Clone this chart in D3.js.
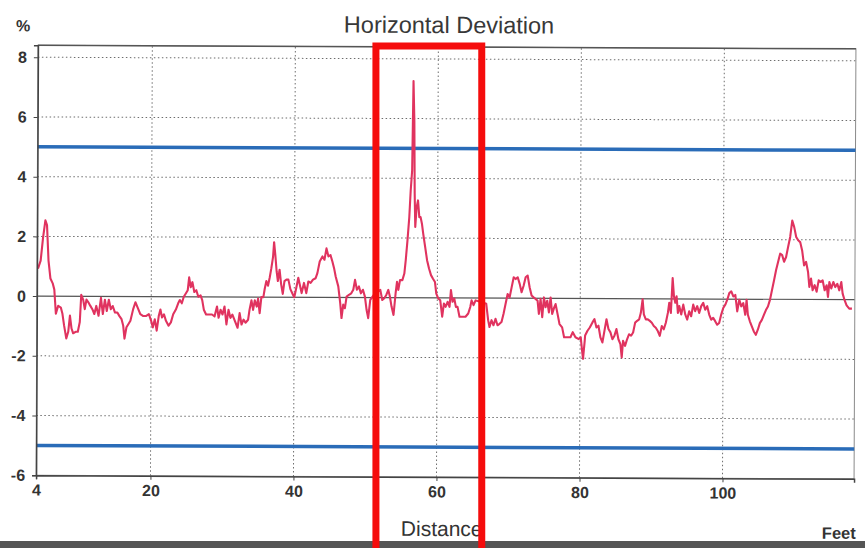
<!DOCTYPE html>
<html>
<head>
<meta charset="utf-8">
<script src="https://cdn.jsdelivr.net/npm/d3@7"></script>
<style>
  body { margin: 0; background: #fff; }
  svg { display: block; font-family: "Liberation Sans", Arial, sans-serif; }
</style>
</head>
<body>
<svg id="grafica" width="865" height="548"></svg>
<script>
// distance along the run (feet) and the horizontal deviation (%)
var distance = [
  4.14,4.51,4.83,5.15,5.38,5.61,5.89,6.21,6.44,6.67,
  6.99,7.36,7.59,7.82,8.14,8.41,8.64,8.87,9.10,9.43,
  9.75,10.02,10.21,10.48,10.71,10.94,11.26,11.49,11.77,12.05,
  12.32,12.64,12.97,13.24,13.52,13.79,14.07,14.35,14.62,14.94,
  15.27,15.54,15.86,16.09,16.28,16.55,16.83,17.10,17.47,17.79,
  18.12,18.48,18.85,19.31,19.68,20.00,20.23,20.51,20.78,21.06,
  21.29,21.52,21.79,22.07,22.44,22.76,23.08,23.45,23.77,24.00,
  24.28,24.55,24.83,25.10,25.29,25.52,25.75,26.02,26.30,26.58,
  26.90,27.13,27.36,27.68,28.05,28.51,28.87,29.20,29.43,29.70,
  29.98,30.25,30.53,30.81,31.08,31.36,31.72,32.09,32.37,32.64,
  32.92,33.20,33.56,33.75,34.02,34.25,34.48,34.76,34.94,35.17,
  35.40,35.68,35.86,36.09,36.32,36.55,36.78,37.01,37.15,37.33,
  37.52,37.70,37.93,38.16,38.39,38.62,38.90,39.17,39.45,39.77,
  40.00,40.28,40.55,
  41.03,41.35,41.68,41.96,42.28,42.61,42.98,43.22,43.54,43.92,
  44.20,44.48,44.76,45.04,45.31,45.55,45.78,46.15,46.43,46.62,
  46.85,47.09,47.32,47.65,47.97,48.25,48.49,48.76,49.04,49.32,
  49.60,49.88,50.12,50.35,50.63,51.28,52.03,52.31,52.59,52.87,
  53.15,53.38,53.61,53.89,54.17,54.36,54.55,54.78,55.11,55.38,
  55.57,55.80,56.04,56.22,56.41,56.55,56.69,56.78,56.88,57.06,
  57.25,57.44,57.62,57.81,58.00,58.28,58.55,58.83,59.11,59.39,
  59.67,59.86,60.14,60.42,60.70,60.93,61.17,61.45,61.72,61.91,
  62.14,62.38,62.61,62.84,63.12,63.50,63.96,64.34,64.62,64.80,
  65.08,65.36,66.20,66.85,67.13,67.32,67.60,67.88,68.16,68.44,
  68.72,69.00,69.28,69.56,69.84,70.12,70.40,70.68,70.96,71.24,
  71.52,71.79,72.07,72.35,72.63,72.91,73.19,73.47,73.75,74.03,
  74.22,74.45,74.69,74.92,75.15,75.38,75.62,75.85,76.08,76.36,
  76.55,76.83,77.11,77.48,77.76,78.18,78.65,78.97,79.35,79.81,
  80.09,80.28,80.42,80.65,
  80.70,81.03,81.35,81.72,82.00,82.28,82.56,82.84,83.12,83.40,
  83.68,83.96,84.24,84.52,84.80,85.08,85.36,85.64,85.83,86.01,
  86.29,86.57,86.85,87.13,87.41,87.69,87.97,88.25,88.48,88.72,
  88.90,89.18,89.46,89.74,90.02,90.30,90.58,90.86,91.14,91.42,
  91.70,91.98,92.26,92.45,92.68,92.91,93.10,93.29,93.47,93.66,
  93.85,94.13,94.41,94.69,94.97,95.24,95.52,95.80,96.08,96.36,
  96.64,96.92,97.20,97.48,97.76,98.04,98.32,98.60,98.88,99.16,
  99.44,99.72,100.00,100.28,100.56,100.84,101.12,101.40,101.68,101.96,
  102.24,102.52,102.80,103.08,103.26,103.45,103.73,104.01,104.29,104.57,
  104.85,105.13,105.41,105.69,105.97,106.25,106.53,106.81,107.09,107.37,
  107.65,107.93,108.21,108.48,108.76,109.04,109.32,109.60,109.88,110.16,
  110.44,110.72,111.00,111.28,111.56,111.84,112.03,112.26,112.49,112.77,
  113.05,113.33,113.61,113.89,114.17,114.45,114.64,114.83,115.10,115.38,
  115.66,115.94,116.22,116.50,116.69,116.97,117.25,117.62,118.00
];

var deviation = [
  0.92,1.19,1.95,2.54,2.38,1.19,0.59,0.43,0.22,-0.59,
  -0.32,-0.38,-0.59,-0.97,-1.41,-1.19,-0.65,-1.08,-1.24,-1.19,
  -1.19,-0.86,0.05,-0.11,-0.43,-0.11,-0.22,-0.32,-0.43,-0.59,
  -0.32,-0.65,-0.05,-0.59,-0.11,-0.49,-0.11,-0.43,-0.32,-0.54,
  -0.54,-0.65,-0.76,-0.97,-1.41,-1.03,-0.92,-0.81,-0.43,-0.19,
  -0.38,-0.59,-0.65,-0.65,-0.59,-0.81,-1.03,-0.76,-1.14,-0.65,
  -0.43,-0.70,-0.59,-0.81,-0.97,-0.86,-0.59,-0.43,-0.22,-0.11,
  -0.22,0,0.11,0.22,0.65,0.32,0.49,0.16,0.22,0,
  0.05,-0.11,-0.43,-0.59,-0.59,-0.59,-0.65,-0.32,-0.70,-0.43,
  -0.59,-0.32,-0.92,-0.43,-0.70,-0.59,-0.81,-1.03,-0.54,-0.92,
  -0.76,-0.86,-0.76,-0.43,-0.11,-0.43,-0.11,-0.32,-0.05,-0.54,
  0,0,0.27,0.54,0.38,0.65,0.97,1.35,1.84,1.41,
  0.86,0.54,0.92,0.43,0.11,0.54,0.59,0.59,0.27,0.11,
  0,0.32,0.65,
  0.14,0.48,0.14,0.53,0.48,0.59,0.64,0.81,1.20,1.37,
  1.26,1.64,1.37,1.42,1.20,0.98,0.70,0.37,-0.19,-0.69,
  -0.24,-0.36,0.03,0.09,0.14,0.26,0.59,0.26,0.37,0.14,
  0.26,0.03,-0.41,-0.69,-0.08,0.14,0.26,-0.08,-0.02,0.09,
  0.26,0.03,-0.30,-0.58,0.14,0.53,0.26,0.59,0.59,0.81,
  1.26,1.92,2.70,3.59,4.26,7.26,5.92,3.48,2.37,3.03,
  3.26,2.70,2.70,2.48,2.14,1.70,1.26,0.98,0.76,0.64,
  0.53,0.14,-0.02,-0.08,-0.63,-0.19,-0.30,-0.13,-0.30,0.26,
  -0.13,-0.02,-0.30,-0.30,-0.63,-0.63,-0.63,-0.52,-0.30,-0.08,
  -0.24,-0.08,-0.13,-0.19,-0.74,-0.97,-0.74,-0.91,-0.69,-0.91,
  -0.86,-0.80,-0.52,-0.19,0.14,0.03,0.37,0.70,0.64,0.70,
  0.48,0.20,0.42,0.70,0.76,0.37,0.09,0.03,-0.02,-0.08,
  -0.52,-0.02,-0.63,0.03,-0.30,-0.08,-0.47,0.03,-0.52,-0.30,
  -0.19,-0.52,-0.86,-0.97,-1.30,-1.30,-1.30,-1.13,-1.30,-1.36,
  -1.30,-1.74,-2.02,-1.41,
  -1.24,-1.08,-0.97,-0.80,-0.69,-0.97,-0.91,-1.30,-1.47,-1.08,
  -0.69,-1.02,-1.13,-1.36,-1.24,-1.02,-1.36,-1.52,-1.97,-1.41,
  -1.58,-1.36,-1.19,-1.24,-1.13,-0.80,-0.74,-0.69,-0.47,-0.02,
  -0.52,-0.69,-0.69,-0.74,-0.80,-0.91,-0.97,-1.08,-1.24,-0.91,
  -1.02,-0.80,-0.47,-0.13,-0.47,0.70,0.09,-0.13,0.09,-0.47,
  -0.24,-0.52,-0.19,-0.52,-0.69,-0.41,-0.58,-0.19,-0.41,-0.24,
  -0.47,-0.24,-0.13,-0.36,-0.24,-0.52,-0.69,-0.63,-0.74,-0.86,
  -0.80,-0.52,-0.30,-0.19,-0.02,0.20,0.26,0.09,0.14,-0.41,
  -0.02,-0.24,-0.13,-0.52,-0.02,-0.52,-0.74,-0.91,-1.08,-1.19,
  -1.02,-0.80,-0.69,-0.52,-0.36,-0.24,-0.02,0.31,0.64,0.98,
  1.26,1.53,1.48,1.26,1.42,1.76,2.09,2.64,2.42,2.09,
  1.98,1.92,1.64,1.14,1.26,0.92,0.42,0.70,0.31,0.48,
  0.26,0.64,0.59,0.64,0.31,0.48,0.09,0.59,0.37,0.59,
  0.42,0.53,0.31,0.59,0.20,-0.02,-0.19,-0.30,-0.30
];

var xTicks = [4, 20, 40, 60, 80, 100];
var yTicks = [-6, -4, -2, 0, 2, 4, 6, 8];
var limits = [5, -5];           // tolerance band, %
var highlight = [51.4, 66.2];   // distance window boxed in red

var svg = d3.select("#grafica"),
    width = +svg.attr("width"),
    height = +svg.attr("height"),
    margin = {top: 47, right: 10, bottom: 71, left: 37};

var x = d3.scaleLinear()
    .domain([4, 118.4])
    .range([margin.left, width - margin.right]);

var y = d3.scaleLinear()
    .domain([-6, 8.4])
    .range([height - margin.bottom, margin.top]);

// the scanned original sits slightly tilted
var chart = svg.append("g")
    .attr("transform", "rotate(0.25," + (width / 2) + "," + (height / 2 - 12) + ")");

// grid
chart.append("g")
    .selectAll("line")
    .data(yTicks.filter(d => d != 0 && d != -6))
  .enter().append("line")
    .attr("x1", x.range()[0]).attr("x2", x.range()[1])
    .attr("y1", d => y(d)).attr("y2", d => y(d))
    .attr("stroke", "#6d6d6d")
    .attr("stroke-width", 1)
    .attr("stroke-dasharray", "1.5,2.5");

chart.append("g")
    .selectAll("line")
    .data(xTicks.filter(d => d != 4))
  .enter().append("line")
    .attr("x1", d => x(d)).attr("x2", d => x(d))
    .attr("y1", y.range()[0]).attr("y2", y.range()[1])
    .attr("stroke", "#6d6d6d")
    .attr("stroke-width", 1)
    .attr("stroke-dasharray", "1.5,2.5");

// zero line
chart.append("line")
    .attr("x1", x.range()[0]).attr("x2", x.range()[1])
    .attr("y1", y(0)).attr("y2", y(0))
    .attr("stroke", "#555")
    .attr("stroke-width", 1.2);

// plot frame
chart.append("rect")
    .attr("x", x.range()[0])
    .attr("y", y.range()[1])
    .attr("width", x.range()[1] - x.range()[0])
    .attr("height", y.range()[0] - y.range()[1])
    .attr("fill", "none")
    .attr("stroke", "#8a8a8a")
    .attr("stroke-width", 1);

chart.append("line")
    .attr("x1", x.range()[0]).attr("x2", x.range()[1])
    .attr("y1", y.range()[1]).attr("y2", y.range()[1])
    .attr("stroke", "#555").attr("stroke-width", 1.5);

// tolerance limits
chart.append("g")
    .selectAll("line")
    .data(limits)
  .enter().append("line")
    .attr("x1", x.range()[0]).attr("x2", x.range()[1])
    .attr("y1", d => y(d)).attr("y2", d => y(d))
    .attr("stroke", "#2a6cb8")
    .attr("stroke-width", 3.5);

// deviation trace
var points = distance.map((d, i) => [d, deviation[i]]);

var line = d3.line()
    .x(d => x(d[0]))
    .y(d => y(d[1]));

chart.append("path")
    .datum(points)
    .attr("fill", "none")
    .attr("stroke", "#e0335f")
    .attr("stroke-width", 2.1)
    .attr("stroke-linejoin", "round")
    .attr("d", line);

// axes (plain hyphen for negatives, like the original)
var yAxis = chart.append("g")
    .attr("transform", `translate(${margin.left},0)`)
    .call(d3.axisLeft(y).tickValues(yTicks).tickSize(4).tickPadding(7).tickFormat(d => String(d)));

var xAxis = chart.append("g")
    .attr("transform", `translate(0,${height - margin.bottom})`)
    .call(d3.axisBottom(x).tickValues(xTicks).tickSize(4).tickPadding(5).tickFormat(d => String(d)));

[yAxis, xAxis].forEach(function(a) {
  a.select(".domain").attr("stroke", "#444").attr("stroke-width", 1.5);
  a.selectAll(".tick line").attr("stroke", "#444");
  a.selectAll("text")
    .attr("fill", "#333")
    .style("font-size", "16px")
    .style("font-weight", "bold")
    .style("font-family", "'Liberation Sans', Arial, sans-serif");
});

// texts
chart.append("text")
    .attr("x", 448).attr("y", 33)
    .attr("text-anchor", "middle")
    .attr("fill", "#383838")
    .style("font-size", "23.5px")
    .text("Horizontal Deviation");

chart.append("text")
    .attr("x", 15).attr("y", 33)
    .attr("fill", "#333")
    .style("font-size", "16px")
    .style("font-weight", "bold")
    .text("%");

chart.append("text")
    .attr("x", 402).attr("y", 536)
    .attr("fill", "#333")
    .style("font-size", "21px")
    .text("Distance");

chart.append("text")
    .attr("x", 857).attr("y", 537)
    .attr("text-anchor", "end")
    .attr("fill", "#333")
    .style("font-size", "16.5px")
    .style("font-weight", "bold")
    .text("Feet");

// scan edge at the bottom
svg.append("rect")
    .attr("x", 0).attr("y", height - 7)
    .attr("width", width).attr("height", 7)
    .attr("fill", "#555");

// red box marking the spike
svg.append("rect")
    .attr("x", x(highlight[0]))
    .attr("y", y.range()[1] - 1)
    .attr("width", x(highlight[1]) - x(highlight[0]))
    .attr("height", height)
    .attr("fill", "none")
    .attr("stroke", "#f50c0c")
    .attr("stroke-width", 7);
</script>
</body>
</html>
